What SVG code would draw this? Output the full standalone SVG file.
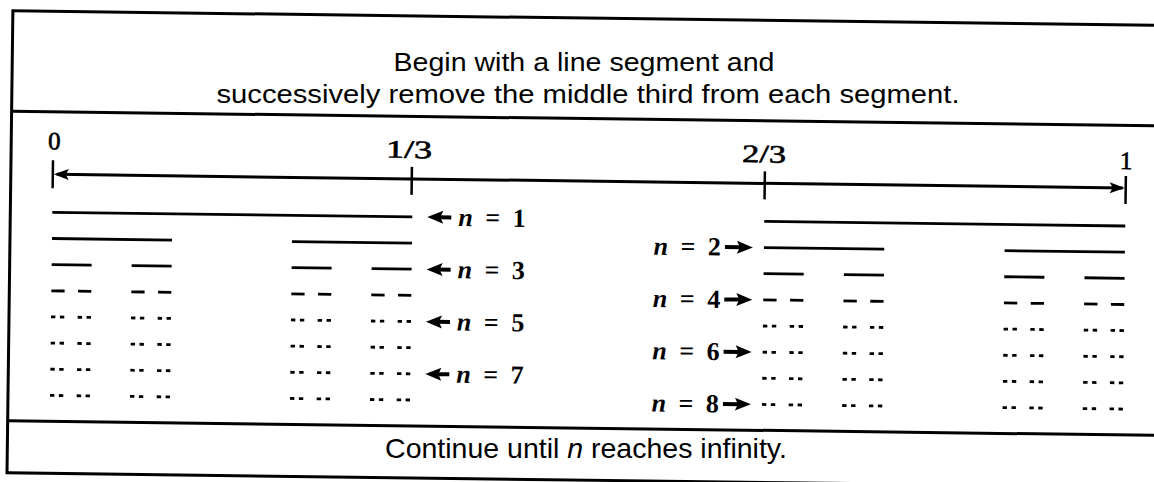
<svg xmlns="http://www.w3.org/2000/svg" width="1154" height="482" viewBox="0 0 1154 482">
<style>
.frame{fill:none;stroke:#000;stroke-width:3}
.seg{fill:none;stroke:#000;stroke-width:2.8;stroke-linecap:butt}
.axis{fill:none;stroke:#000;stroke-width:3}
.tick{fill:none;stroke:#000;stroke-width:2.5}
.head{fill:#000;stroke:none}
.sans{font-family:"Liberation Sans",Arial,sans-serif;fill:#000}
.num{font-family:"Liberation Serif","Times New Roman",serif;font-size:25px;fill:#000;stroke:#000;stroke-width:0.6;text-anchor:middle}
.lab{font-family:"Liberation Serif","Times New Roman",serif;font-size:26px;font-weight:bold;fill:#000;word-spacing:6px}
.it{font-style:italic}
</style>
<defs>
<path id="L1" d="M0 0H360"/>
<path id="L2" d="M0 0H120M240 0H360"/>
<path id="L3" d="M0 0H40M80 0H120M240 0H280M320 0H360"/>
<path id="L4" d="M0 0H13.3M26.7 0H40M80 0H93.3M106.7 0H120M240 0H253.3M266.7 0H280M320 0H333.3M346.7 0H360"/>
<path id="L5" d="M0 0H4.4M8.9 0H13.3M26.7 0H31.1M35.6 0H40M80 0H84.4M88.9 0H93.3M106.7 0H111.1M115.6 0H120M240 0H244.4M248.9 0H253.3M266.7 0H271.1M275.6 0H280M320 0H324.4M328.9 0H333.3M346.7 0H351.1M355.6 0H360"/>
<g id="arrL"><path class="head" d="M0 0L16 -6.5L13 0L16 6.5Z"/><path d="M12 0H24" stroke="#000" stroke-width="4"/></g>
<g id="arrR"><path class="head" d="M0 0L-16 -6.5L-13 0L-16 6.5Z"/><path d="M-12 0H-28" stroke="#000" stroke-width="4"/></g>
</defs>
<rect x="0" y="0" width="1154" height="482" fill="#fff"/>
<g id="page" transform="rotate(0.73 577 241)">
  <g id="frame">
    <rect class="frame" x="10" y="18" width="1175" height="462"/>
    <line class="frame" x1="10" y1="118.5" x2="1185" y2="118.5"/>
    <line class="frame" x1="10" y1="428" x2="1185" y2="428"/>
  </g>
  <g id="axis">
    <line class="axis" x1="56" y1="181" x2="1122" y2="181"/>
    <path class="head" d="M53 181L68 175.5L65 181L68 186.5Z"/>
    <path class="head" d="M1124 181L1109 175.5L1112 181L1109 186.5Z"/>
    <line class="tick" x1="52" y1="167" x2="52" y2="195"/>
    <line class="tick" x1="411" y1="169" x2="411" y2="197"/>
    <line class="tick" x1="764" y1="169" x2="764" y2="197"/>
    <line class="tick" x1="1125" y1="169" x2="1125" y2="197"/>
    <text class="num" x="53" y="156">0</text>
    <text class="num" x="408" y="160" textLength="46" lengthAdjust="spacingAndGlyphs">1/3</text>
    <text class="num" x="763" y="160" textLength="44" lengthAdjust="spacingAndGlyphs">2/3</text>
    <text class="num" x="1125" y="162">1</text>
  </g>
  <g id="rows" class="seg">
    <use href="#L1" transform="translate(52 219)"/>
    <use href="#L1" transform="translate(764 219) scale(1.0028 1)"/>
    <use href="#L2" transform="translate(52 245.2)"/>
    <use href="#L2" transform="translate(764 245.2) scale(1.0028 1)"/>
    <use href="#L3" transform="translate(52 271.3)"/>
    <use href="#L3" transform="translate(764 271.3) scale(1.0028 1)"/>
    <use href="#L4" transform="translate(52 297.5)"/>
    <use href="#L4" transform="translate(764 297.5) scale(1.0028 1)"/>
    <use href="#L5" transform="translate(52 323.6)"/>
    <use href="#L5" transform="translate(764 323.6) scale(1.0028 1)"/>
    <use href="#L5" transform="translate(52 349.8)"/>
    <use href="#L5" transform="translate(764 349.8) scale(1.0028 1)"/>
    <use href="#L5" transform="translate(52 375.9)"/>
    <use href="#L5" transform="translate(764 375.9) scale(1.0028 1)"/>
    <use href="#L5" transform="translate(52 402.1)"/>
    <use href="#L5" transform="translate(764 402.1) scale(1.0028 1)"/>
  </g>
  <g id="labels">
    <use href="#arrL" x="427" y="219"/>
    <text class="lab" x="458" y="227.5"><tspan class="it">n</tspan> = 1</text>
    <use href="#arrR" x="753" y="245.2"/>
    <text class="lab" x="721" y="253.7" text-anchor="end"><tspan class="it">n</tspan> = 2</text>
    <use href="#arrL" x="427" y="271.3"/>
    <text class="lab" x="458" y="279.8"><tspan class="it">n</tspan> = 3</text>
    <use href="#arrR" x="753" y="297.5"/>
    <text class="lab" x="721" y="306" text-anchor="end"><tspan class="it">n</tspan> = 4</text>
    <use href="#arrL" x="427" y="323.6"/>
    <text class="lab" x="458" y="332.1"><tspan class="it">n</tspan> = 5</text>
    <use href="#arrR" x="753" y="349.8"/>
    <text class="lab" x="721" y="358.3" text-anchor="end"><tspan class="it">n</tspan> = 6</text>
    <use href="#arrL" x="427" y="375.9"/>
    <text class="lab" x="458" y="384.4"><tspan class="it">n</tspan> = 7</text>
    <use href="#arrR" x="753" y="402.1"/>
    <text class="lab" x="721" y="410.6" text-anchor="end"><tspan class="it">n</tspan> = 8</text>
  </g>
</g>
<g id="title" class="sans" font-size="26.5" text-anchor="middle">
  <text x="584" y="71" textLength="381" lengthAdjust="spacingAndGlyphs">Begin with a line segment and</text>
  <text x="588" y="103" textLength="743" lengthAdjust="spacingAndGlyphs">successively remove the middle third from each segment.</text>
</g>
<g id="footer" class="sans" font-size="28.5" text-anchor="middle">
  <text x="586" y="458">Continue until <tspan font-style="italic">n</tspan> reaches infinity.</text>
</g>
</svg>
